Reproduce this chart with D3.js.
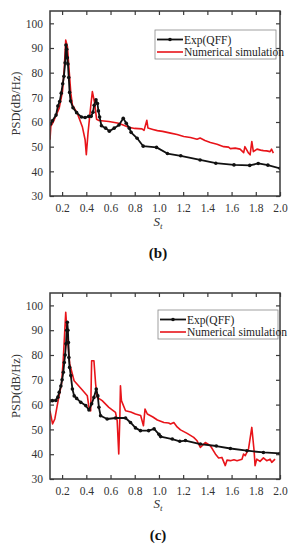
<!DOCTYPE html>
<html>
<head>
<meta charset="utf-8">
<script src="https://cdn.jsdelivr.net/npm/d3@7"></script>
<style>
html,body{margin:0;padding:0;background:#fff;}
svg{display:block;}
</style>
</head>
<body>
<svg id="chart" width="297" height="550"></svg>
<script>
// ---- data ----
const xTicks = [0.2,0.4,0.6,0.8,1.0,1.2,1.4,1.6,1.8,2.0];
const yTicks = [30,40,50,60,70,80,90,100];
const seriesNames = ["Exp(QFF)", "Numerical simulation"];
const panelLabels = ["(b)", "(c)"];

const expB_x = [0.105,0.12,0.15,0.165,0.18,0.193,0.205,0.215,0.225,0.232,0.238,0.243,0.248,0.255,0.262,0.27,0.29,0.32,0.36,0.39,0.42,0.44,0.455,0.465,0.48,0.492,0.5,0.51,0.525,0.56,0.59,0.63,0.67,0.705,0.73,0.755,0.77,0.82,0.87,0.98,1.07,1.18,1.34,1.47,1.62,1.75,1.82,1.9,2.0];
const expB_y = [59.2,60.5,62.8,66.5,68.3,71.7,75.5,78.5,84,91.2,89.5,86,83.5,78,72,68.5,65.8,63.8,62,61.8,62.3,62.3,64,66.8,69,67.5,64.5,62,58.5,57.5,56.3,57.5,58.8,61.5,59.5,57.5,55.8,53.4,50.2,49.7,47.2,46.3,44.6,43.3,42.6,42.4,43.2,42.5,41.2];

const simB_x = [0.1,0.107,0.135,0.176,0.203,0.217,0.23,0.244,0.258,0.272,0.285,0.326,0.367,0.39,0.4,0.414,0.436,0.45,0.469,0.485,0.504,0.586,0.668,0.75,0.8,0.86,0.877,0.9,0.909,0.95,0.987,1.03,1.096,1.15,1.205,1.26,1.315,1.34,1.38,1.425,1.48,1.535,1.575,1.59,1.63,1.67,1.70,1.71,1.74,1.753,1.767,1.78,1.81,1.84,1.863,1.89,1.918,1.93,1.945];
const simB_y = [52.8,58.2,60.9,65.6,72.3,81.1,93.2,90.5,81,71.7,66.9,63.5,58.1,52.8,46.7,55.5,66.2,72.3,67.6,61.1,60.6,60.2,59.5,57.9,57.4,57.2,56.6,60.7,57.6,57.0,56.5,56.2,55.5,54.9,54.1,53.7,53.0,53.5,52.5,51.7,51.0,50.0,49.8,49.2,49.4,49.0,47.6,50.0,47.4,46.7,52.1,48.0,49.0,48.6,48.4,48.3,48.0,49.0,47.4];

const expC_x = [0.1,0.12,0.148,0.165,0.176,0.19,0.2,0.21,0.218,0.225,0.232,0.238,0.243,0.248,0.252,0.256,0.262,0.272,0.285,0.3,0.32,0.354,0.395,0.422,0.444,0.463,0.482,0.495,0.504,0.518,0.572,0.641,0.724,0.765,0.806,0.847,0.915,0.96,1.0,1.014,1.11,1.172,1.219,1.342,1.474,1.59,1.727,1.863,2.0];
const expC_y = [61.5,61.6,61.7,63,65,67.5,70,73,77,80,84.5,90,93.2,90,85,79,75,71.7,66.3,63.5,62.5,60.9,59.6,57.8,60.3,62.9,66.3,63.5,58.9,55.5,54.2,54.6,54.6,52.8,50.6,49.5,49.5,50.2,48,47.1,46.1,45.2,45.5,44.1,43.3,42.3,41.4,40.7,40.3];

const simC_x = [0.1,0.121,0.14,0.167,0.195,0.209,0.23,0.244,0.263,0.299,0.367,0.408,0.422,0.436,0.444,0.463,0.477,0.49,0.531,0.586,0.641,0.655,0.668,0.677,0.682,0.69,0.724,0.767,0.806,0.849,0.872,0.885,0.904,0.95,0.987,1.041,1.08,1.096,1.123,1.15,1.178,1.233,1.287,1.315,1.342,1.383,1.425,1.466,1.493,1.52,1.548,1.562,1.59,1.62,1.645,1.686,1.699,1.713,1.74,1.767,1.786,1.794,1.808,1.835,1.863,1.89,1.918,1.932,1.959];
const simC_y = [57.5,52.2,54.2,61.6,68.3,77.7,97.2,87.1,76.4,69.6,65.9,63.6,58.9,57.5,77.7,77.7,68.3,62.9,61.6,58.9,56.9,53.5,40.1,55,67.6,61.6,57.5,57,56.2,55.6,51.5,58.2,56.2,55.0,53.8,52.8,52.6,52.2,52.8,51.0,49.8,48.4,46.8,45.4,42.7,44.7,43.4,40.1,38.5,38.7,35.4,37.6,37.4,37.8,37.4,38,40.1,39.4,42.1,50.8,41.4,35.4,38,37.1,38.5,37.4,38,36.7,38];

// ---- drawing ----
const svg = d3.select("#chart");
svg.append("rect").attr("width",297).attr("height",550).attr("fill","#fff");
const serif = "'Liberation Serif','Times New Roman',serif";
const frameColor = "#3a3a3a";
const textColor = "#333";
const red = "#e8141a";

function zip(xs, ys){ return xs.map((x,i)=>({x:x, y:ys[i]})); }

function drawPanel(top, bottom, legendBox, labelY, stY, panelLabel, expData, simData){
  const x = d3.scaleLinear().domain([0.1,2.0]).range([50,280]);
  const y = d3.scaleLinear().domain([30,105]).range([bottom, top]);
  const g = svg.append("g");

  const axB = g.append("g").attr("transform",`translate(0,${bottom})`)
    .call(d3.axisBottom(x).tickValues(xTicks).tickSizeInner(-4).tickSizeOuter(0).tickPadding(8).tickFormat(d3.format(".1f")));
  const axT = g.append("g").attr("transform",`translate(0,${top})`)
    .call(d3.axisTop(x).tickValues(xTicks).tickSizeInner(-4).tickSizeOuter(0).tickFormat(""));
  const axL = g.append("g").attr("transform",`translate(50,0)`)
    .call(d3.axisLeft(y).tickValues(yTicks).tickSizeInner(-4).tickSizeOuter(0).tickPadding(7));
  const axR = g.append("g").attr("transform",`translate(280,0)`)
    .call(d3.axisRight(y).tickValues(yTicks).tickSizeInner(-4).tickSizeOuter(0).tickFormat(""));
  [axB,axT,axL,axR].forEach(a=>{
    a.select(".domain").remove();
    a.selectAll(".tick line").attr("stroke",frameColor).attr("stroke-width",1.2);
    a.selectAll(".tick text").attr("font-family",serif).attr("font-size",11.5).attr("fill",textColor);
  });

  const cid = "clip"+top;
  svg.append("clipPath").attr("id",cid).append("rect")
    .attr("x",50).attr("y",top).attr("width",230).attr("height",bottom-top);

  const line = d3.line().x(d=>x(d.x)).y(d=>y(d.y));
  const plot = g.append("g").attr("clip-path",`url(#${cid})`);
  plot.append("path").datum(simData).attr("d",line)
    .attr("fill","none").attr("stroke",red).attr("stroke-width",1.6).attr("stroke-linejoin","round");
  plot.append("path").datum(expData).attr("d",line)
    .attr("fill","none").attr("stroke","#111").attr("stroke-width",1.8).attr("stroke-linejoin","round");
  plot.selectAll("circle.m").data(expData).enter().append("circle")
    .attr("class","m").attr("cx",d=>x(d.x)).attr("cy",d=>y(d.y)).attr("r",1.8).attr("fill","#111");

  g.append("rect").attr("x",50).attr("y",top).attr("width",230).attr("height",bottom-top)
    .attr("fill","none").attr("stroke",frameColor).attr("stroke-width",1.5);

  g.append("text").attr("transform",`translate(20,${(top+bottom)/2}) rotate(-90)`)
    .attr("text-anchor","middle").attr("font-family",serif).attr("font-size",12.5).attr("fill",textColor)
    .text("PSD(dB/Hz)");

  const st = g.append("text").attr("x",158).attr("y",stY).attr("text-anchor","middle")
    .attr("font-family",serif).attr("font-size",13).attr("font-style","italic").attr("fill",textColor);
  st.append("tspan").text("S");
  st.append("tspan").attr("font-size",9).attr("dy",3).text("t");

  g.append("text").attr("x",158).attr("y",labelY).attr("text-anchor","middle")
    .attr("font-family",serif).attr("font-size",15).attr("font-weight","bold").attr("fill","#111")
    .text(panelLabel);

  const [lx, ly, lw, lh] = legendBox;
  const lg = g.append("g");
  lg.append("rect").attr("x",lx).attr("y",ly).attr("width",lw).attr("height",lh)
    .attr("fill","#fff").attr("stroke","#888").attr("stroke-width",0.8);
  const rows = [ly+9.5, ly+22];
  lg.append("line").attr("x1",lx+2).attr("x2",lx+28).attr("y1",rows[0]).attr("y2",rows[0])
    .attr("stroke","#111").attr("stroke-width",1.8);
  lg.append("circle").attr("cx",lx+15).attr("cy",rows[0]).attr("r",1.8).attr("fill","#111");
  lg.append("line").attr("x1",lx+2).attr("x2",lx+28).attr("y1",rows[1]).attr("y2",rows[1])
    .attr("stroke",red).attr("stroke-width",1.6);
  seriesNames.forEach((n,i)=>{
    lg.append("text").attr("x",lx+29).attr("y",rows[i]+4).attr("font-family",serif)
      .attr("font-size",11.5).attr("fill","#222").text(n);
  });
}

drawPanel(11, 196, [155,30,121,29], 258, 226, panelLabels[0], zip(expB_x,expB_y), zip(simB_x,simB_y));
drawPanel(293, 479, [158,310,120,29], 540, 508, panelLabels[1], zip(expC_x,expC_y), zip(simC_x,simC_y));
</script>
</body>
</html>
